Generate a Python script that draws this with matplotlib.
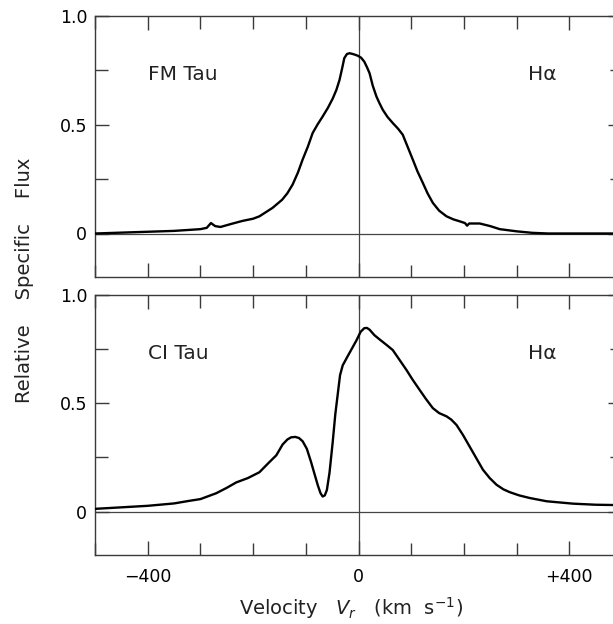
import matplotlib
matplotlib.use("Agg")
import matplotlib.pyplot as plt
from matplotlib.ticker import MultipleLocator, FixedLocator

plt.rcParams['font.family'] = ['DejaVu Sans']

# FM Tau H-alpha profile (velocity km/s, relative flux)
fm_v = [-500, -450, -400, -350, -300, -288, -280, -272, -262, -240, -220, -200,
        -188, -163, -145, -135, -125, -115, -106, -96, -87, -78, -68, -58, -49,
        -42, -36, -31, -27, -22, -17, -9, -1, 5, 11, 16, 21, 27, 34, 40, 46, 55,
        65, 75, 84, 93, 103, 112, 122, 131, 141, 153, 167, 180, 192, 202, 206,
        210, 230, 250, 268, 300, 330, 360, 420, 500]
fm_f = [0.0, 0.004, 0.008, 0.012, 0.02, 0.026, 0.048, 0.034, 0.03, 0.045, 0.058,
        0.068, 0.079, 0.118, 0.155, 0.185, 0.225, 0.28, 0.34, 0.40, 0.462, 0.50,
        0.538, 0.578, 0.62, 0.66, 0.706, 0.76, 0.806, 0.825, 0.829, 0.824, 0.817,
        0.808, 0.79, 0.765, 0.737, 0.68, 0.63, 0.598, 0.569, 0.536, 0.508, 0.482,
        0.454, 0.40, 0.34, 0.285, 0.233, 0.185, 0.141, 0.105, 0.079, 0.065, 0.056,
        0.048, 0.036, 0.046, 0.046, 0.034, 0.02, 0.01, 0.003, 0.0, 0.0, 0.0]

# CI Tau H-alpha profile
ci_v = [-500, -450, -400, -350, -321, -300, -270, -250, -232, -210, -188, -169,
        -156, -144, -135, -128, -120, -113, -106, -98, -90, -83, -77, -72, -68,
        -64, -60, -55, -49, -44, -39, -35, -30, -20, -12, -4, 4, 11, 16, 21, 30,
        40, 52, 65, 78, 91, 103, 116, 128, 141, 153, 167, 176, 186, 198, 211, 224,
        236, 249, 262, 275, 287, 305, 325, 357, 407, 450, 500]
ci_f = [0.013, 0.02, 0.027, 0.038, 0.05, 0.058, 0.085, 0.11, 0.135, 0.155, 0.182,
        0.229, 0.26, 0.31, 0.333, 0.343, 0.345, 0.34, 0.325, 0.29, 0.229, 0.17,
        0.12, 0.085, 0.07, 0.075, 0.10, 0.18, 0.32, 0.45, 0.55, 0.63, 0.675, 0.72,
        0.755, 0.79, 0.83, 0.847, 0.848, 0.84, 0.815, 0.795, 0.772, 0.746, 0.70,
        0.654, 0.608, 0.562, 0.52, 0.478, 0.455, 0.44, 0.425, 0.40, 0.355, 0.30,
        0.245, 0.194, 0.155, 0.124, 0.103, 0.09, 0.075, 0.063, 0.048, 0.037,
        0.032, 0.03]

star_names = ["FM Tau", "CI Tau"]
line_name = "H\u03b1"
xtick_vals = [-400, 0, 400]
xtick_labels = ["\u2212400", "0", "+400"]
ytick_vals = [0, 0.5, 1.0]
ytick_labels = ["0", "0.5", "1.0"]

W, H = 613, 624
fig = plt.figure(figsize=(W / 100, H / 100), dpi=100)

def px_axes(left, top, right, bottom):
    return fig.add_axes([left / W, 1 - bottom / H, (right - left) / W, (bottom - top) / H])

ax_top = px_axes(95, 16, 622, 277)
ax_bot = px_axes(95, 295, 622, 555)

spine_col = '#3a3a3a'
for ax, v, f, name in [(ax_top, fm_v, fm_f, star_names[0]), (ax_bot, ci_v, ci_f, star_names[1])]:
    ax.set_xlim(-500, 500)
    ax.set_ylim(-0.2, 1.0)
    ax.axhline(0, color='#444444', lw=0.9, zorder=1)
    ax.axvline(0, color='#444444', lw=0.9, zorder=1)
    ax.plot(v, f, color='black', lw=1.7, zorder=3, solid_joinstyle='round')
    for s in ax.spines.values():
        s.set_color(spine_col)
        s.set_linewidth(1.0)
    ax.xaxis.set_major_locator(FixedLocator(xtick_vals))
    ax.xaxis.set_minor_locator(MultipleLocator(100))
    ax.yaxis.set_major_locator(FixedLocator(ytick_vals))
    ax.yaxis.set_minor_locator(FixedLocator([0.25, 0.75]))
    ax.tick_params(which='both', direction='in', top=True, right=True,
                   color=spine_col, width=1.0)
    ax.tick_params(which='major', length=10)
    ax.tick_params(which='minor', length=9)
    ax.tick_params(axis='y', labelsize=12.5, pad=5.5)
    ax.tick_params(axis='x', labelsize=12.5, pad=9.5)
    ax.set_yticklabels(ytick_labels)
    ax.text(-400, 0.73, name, fontsize=14.5, ha='left', va='center', color='#222222')
    ax.text(348, 0.73, line_name, fontsize=14.5, ha='center', va='center', color='#222222')

ax_top.set_xticklabels([])
ax_bot.set_xticklabels(xtick_labels)

fig.text(25 / W, 1 - 280 / H, "Relative    Specific    Flux", rotation=90,
         ha='center', va='center', fontsize=14, color='#222222')
fig.text(351 / W, 1 - 608 / H, r"Velocity   $V_r$   (km  s$^{-1}$)",
         ha='center', va='center', fontsize=14, color='#222222')

fig.savefig("out.png", dpi=100)
